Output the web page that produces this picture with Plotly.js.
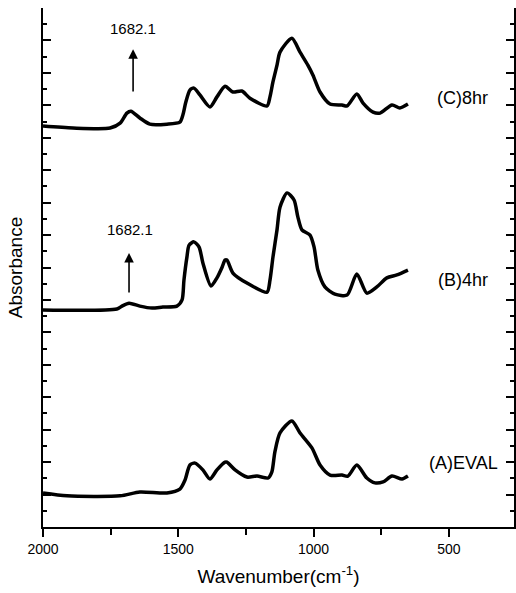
<!DOCTYPE html>
<html>
<head>
<meta charset="utf-8">
<script src="https://cdn.plot.ly/plotly-3.0.1.min.js"></script>
<style>html,body{margin:0;padding:0;background:#fff;}#chart{width:516px;height:593px;}</style>
</head>
<body>
<div id="chart"></div>
<script>
// Spectrum A (EVAL)
const wnA = [2000,1911,1715,1642,1542,1494,1475,1457,1438,1409,1383,1357,1327,1320,1290,1246,1209,1168,1154,1143,1124,1080,1050,1006,976,939,895,873,840,803,773,743,710,673,651];
const absA = [1.05,0.96,0.96,1.08,1.05,1.17,1.45,1.91,1.97,1.76,1.48,1.76,2.00,2.00,1.76,1.54,1.57,1.51,1.70,2.31,2.90,3.27,2.90,2.44,1.91,1.60,1.60,1.57,1.91,1.51,1.36,1.39,1.57,1.48,1.57];
// Spectrum B (4hr)
const wnB = [2000,1727,1708,1682,1642,1597,1557,1505,1486,1479,1468,1460,1442,1423,1409,1379,1357,1338,1327,1320,1298,1246,1172,1161,1150,1135,1124,1098,1072,1058,1043,1013,998,984,958,921,876,840,803,766,729,692,651];
const absB = [6.69,6.72,6.81,6.90,6.81,6.75,6.78,6.81,7.00,7.61,8.32,8.69,8.79,8.63,8.14,7.43,7.68,8.01,8.23,8.23,7.83,7.52,7.24,7.61,8.32,9.16,9.86,10.30,10.08,9.56,9.16,9.00,8.63,7.92,7.40,7.18,7.15,7.80,7.21,7.40,7.68,7.77,7.92];
// Spectrum C (8hr)
const wnC = [2000,1889,1752,1715,1690,1675,1642,1605,1542,1494,1483,1472,1457,1442,1420,1383,1357,1327,1298,1265,1235,1172,1161,1150,1135,1124,1080,1050,1021,1002,976,939,895,876,840,817,780,754,710,681,651];
const absC = [12.36,12.30,12.30,12.45,12.76,12.82,12.61,12.42,12.42,12.48,12.70,13.10,13.47,13.53,13.32,12.95,13.26,13.59,13.41,13.44,13.22,12.98,13.26,13.72,14.24,14.64,15.07,14.64,14.24,13.93,13.41,13.04,13.01,12.98,13.35,13.07,12.79,12.76,13.01,12.92,13.04];
const seriesLabels = ["(A)EVAL","(B)4hr","(C)8hr"];
const peakLabel = "1682.1";

const FONT = "Liberation Sans, Arial, sans-serif";
const lineStyle = {color:"#000", width:3.5, shape:"spline", smoothing:0.7};
const traces = [
  {x:wnA, y:absA, mode:"lines", line:lineStyle, name:seriesLabels[0]},
  {x:wnB, y:absB, mode:"lines", line:lineStyle, name:seriesLabels[1]},
  {x:wnC, y:absC, mode:"lines", line:lineStyle, name:seriesLabels[2]}
];

const layout = {
  width:516, height:593,
  margin:{l:43, r:2, t:8, b:66},
  paper_bgcolor:"#fff", plot_bgcolor:"#fff",
  showlegend:false,
  font:{family:FONT, color:"#000", size:14},
  xaxis:{
    range:[2000,259], showgrid:false, zeroline:false,
    showline:true, linecolor:"#000", linewidth:2,
    ticks:"outside", ticklen:8, tickwidth:2, tickcolor:"#000",
    tickvals:[2000,1500,1000,500], ticktext:["2000","1500","1000","500"],
    minor:{tickvals:[1750,1250,750], ticks:"outside", ticklen:6, tickwidth:2, tickcolor:"#000"},
    tickfont:{size:14, family:FONT},
    title:{text:"Wavenumber(cm<sup>-1</sup>)", font:{size:19, family:FONT}, standoff:14},
    mirror:false
  },
  xaxis2:{
    range:[2000,259], overlaying:"x", side:"top", anchor:"y", matches:"x",
    showgrid:false, zeroline:false, showline:true, linecolor:"#000", linewidth:2,
    ticks:"inside", ticklen:7, tickwidth:2, tickcolor:"#000",
    tickvals:[2000,1750,1500,1250,1000,750,500], showticklabels:false
  },
  yaxis:{
    range:[0,16], showgrid:false, zeroline:false,
    showline:true, linecolor:"#000", linewidth:2, mirror:"ticks",
    ticks:"inside", ticklen:8, tickwidth:2, tickcolor:"#000", dtick:1, tick0:0,
    minor:{dtick:0.5, ticks:"inside", ticklen:4, tickwidth:2, tickcolor:"#000"},
    showticklabels:false,
    title:{text:"Absorbance", font:{size:19, family:FONT}, standoff:13}
  },
  annotations:[
    {x:1667, y:14.73, ax:1667, ay:13.38, axref:"x", ayref:"y", xref:"x", yref:"y",
     text:"", showarrow:true, arrowhead:2, arrowsize:1.2, arrowwidth:1.6, arrowcolor:"#000"},
    {x:1682, y:8.45, ax:1682, ay:7.18, axref:"x", ayref:"y", xref:"x", yref:"y",
     text:"", showarrow:true, arrowhead:2, arrowsize:1.2, arrowwidth:1.6, arrowcolor:"#000"},
    {x:1667, y:15.38, xref:"x", yref:"y", text:peakLabel, showarrow:false, font:{size:15, family:FONT}},
    {x:1678, y:9.16, xref:"x", yref:"y", text:peakLabel, showarrow:false, font:{size:15, family:FONT}},
    {x:451, y:13.22, xref:"x", yref:"y", text:seriesLabels[2], showarrow:false, font:{size:18, family:FONT}},
    {x:448, y:7.61, xref:"x", yref:"y", text:seriesLabels[1], showarrow:false, font:{size:18, family:FONT}},
    {x:444, y:1.97, xref:"x", yref:"y", text:seriesLabels[0], showarrow:false, font:{size:18, family:FONT}}
  ]
};

Plotly.newPlot("chart", traces, layout, {staticPlot:true, displayModeBar:false});
</script>
</body>
</html>
